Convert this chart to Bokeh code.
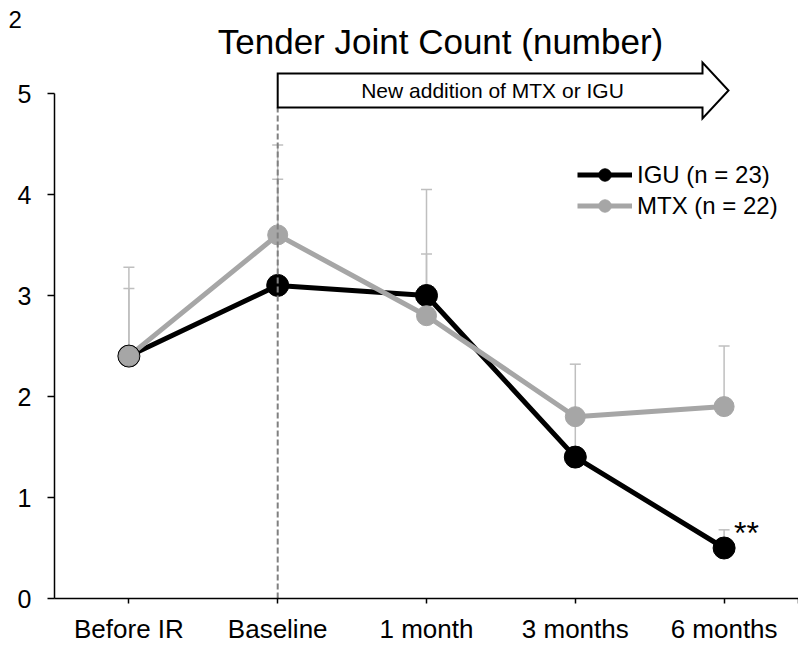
from bokeh.plotting import figure
from bokeh.models import (Range1d, FixedTicker, CustomJSTickFormatter, ColumnDataSource,
                          Whisker, TeeHead, Label, Legend, LegendItem)
from bokeh.embed import file_html
from bokeh.resources import INLINE

# Time points and group means / upper error (SEM) for tender joint count
categories = ["Before IR", "Baseline", "1 month", "3 months", "6 months"]
igu_mean = [2.4, 3.1, 3.0, 1.4, 0.5]
igu_sem = [0.67, 1.05, 1.05, 0.45, 0.18]
mtx_mean = [2.4, 3.6, 2.8, 1.8, 1.9]
mtx_sem = [0.88, 0.89, 0.61, 0.52, 0.60]
y_ticks = [0, 1, 2, 3, 4, 5]
series_labels = ["IGU (n = 23)", "MTX (n = 22)"]

FONT = "Liberation Sans"
BLACK = "#000000"
GREY = "#A6A6A6"
ERR = "#BFBFBF"

W, H = 798, 645
AXIS_X = 54          # pixel column of the value axis
AXIS_Y = 598         # pixel row of the category axis
PX_PER_UNIT = 101    # vertical pixels per count
PX_PER_CAT = (W - AXIS_X) / len(categories)
X_START = -0.5 - AXIS_X / PX_PER_CAT


def px_x(px):
    """Canvas x pixel -> data x (for annotation placement)."""
    return X_START + px / PX_PER_CAT


def px_y(py):
    """Canvas y pixel (from top) -> data y (for annotation placement)."""
    return (AXIS_Y - py) / PX_PER_UNIT


xs = list(range(len(categories)))

# the plotting area fills the whole canvas; both axes are pinned inside it
p = figure(width=W, height=H, output_backend="svg", toolbar_location=None,
           x_range=Range1d(X_START, len(categories) - 0.5),
           y_range=Range1d(px_y(H), px_y(0)),
           min_border=0, outline_line_color=None,
           background_fill_color="white", border_fill_color="white")
p.grid.visible = False

# error bars (upper only), drawn underneath the series
for mean, sem in ((igu_mean, igu_sem), (mtx_mean, mtx_sem)):
    src = ColumnDataSource(dict(x=xs, base=mean, top=[m + e for m, e in zip(mean, sem)]))
    p.add_layout(Whisker(source=src, base="x", lower="base", upper="top",
                         dimension="height", line_color=ERR, line_width=1.5,
                         upper_head=TeeHead(size=11, line_color=ERR, line_width=1.5),
                         lower_head=None))

igu_line = p.line(xs, igu_mean, line_color=BLACK, line_width=5)
mtx_line = p.line(xs, mtx_mean, line_color=GREY, line_width=5)
igu_pts = p.scatter(xs, igu_mean, size=22, fill_color=BLACK, line_color=BLACK, line_width=1)
mtx_pts = p.scatter(xs, mtx_mean, size=20, fill_color=GREY, line_color=GREY, line_width=1)

# treatment-start marker and block arrow
p.segment(x0=[1], y0=[0], x1=[1], y1=[px_y(107)], line_color="#808080",
          line_width=2, line_dash="6 3")
ax = [1.0, px_x(702), px_x(702), px_x(728), px_x(702), px_x(702), 1.0]
ay = [px_y(73), px_y(73), px_y(62), px_y(90), px_y(118), px_y(107), px_y(107)]
p.patch(ax, ay, fill_color="white", line_color=BLACK, line_width=2, line_join="miter")
p.add_layout(Label(x=px_x(492), y=px_y(90), text="New addition of MTX or IGU",
                   text_align="center", text_baseline="middle", text_font=FONT,
                   text_font_size="21px", text_color=BLACK))

# title
p.add_layout(Label(x=px_x(440), y=px_y(41), text="Tender Joint Count (number)",
                   text_align="center", text_baseline="alphabetic", text_font=FONT,
                   text_font_size="35px", text_color=BLACK))

# panel number at the top-left corner
p.add_layout(Label(x=px_x(8), y=px_y(19), text="2", text_align="left",
                   text_baseline="alphabetic", text_font=FONT,
                   text_font_size="24px", text_color=BLACK))

# significance mark at 6 months
p.add_layout(Label(x=xs[4], y=igu_mean[4], x_offset=10, y_offset=15, text="**",
                   text_align="left", text_baseline="alphabetic", text_font=FONT,
                   text_font_size="32px", text_color=BLACK))

legend = Legend(items=[LegendItem(label=series_labels[0], renderers=[igu_line, igu_pts]),
                       LegendItem(label=series_labels[1], renderers=[mtx_line, mtx_pts])],
                location=(577, H - 221),
                padding=0, margin=0, spacing=0, glyph_width=55, glyph_height=31,
                label_height=31, label_standoff=5, label_text_font=FONT,
                label_text_font_size="24px", label_text_color=BLACK,
                border_line_color=None, background_fill_alpha=0)
p.add_layout(legend)

# y axis, pinned at the left edge of the first category slot
p.yaxis.fixed_location = -0.5
p.yaxis.ticker = FixedTicker(ticks=y_ticks)
p.yaxis.bounds = (0, 5)
p.yaxis.major_tick_in = 0
p.yaxis.major_tick_out = 7
p.yaxis.minor_tick_in = 0
p.yaxis.minor_tick_out = 0
p.yaxis.axis_line_width = 1.5
p.yaxis.major_tick_line_width = 1.5
p.yaxis.axis_line_color = BLACK
p.yaxis.major_label_text_font = FONT
p.yaxis.major_label_text_font_size = "25px"
p.yaxis.major_label_text_color = BLACK
p.yaxis.major_label_standoff = 16

# x axis pinned at zero: ticks at each time point plus the right end
p.xaxis.fixed_location = 0
p.xaxis.bounds = (-0.5, len(categories) - 0.5)
p.xaxis.ticker = FixedTicker(ticks=xs + [len(categories) - 0.5])
p.xaxis.formatter = CustomJSTickFormatter(
    args=dict(labels=categories),
    code="const i = Math.round(tick); return Math.abs(tick - i) < 1e-9 ? labels[i] : '';")
p.xaxis.major_tick_in = 0
p.xaxis.major_tick_out = 5
p.xaxis.minor_tick_in = 0
p.xaxis.minor_tick_out = 0
p.xaxis.axis_line_width = 1.5
p.xaxis.major_tick_line_width = 1.5
p.xaxis.axis_line_color = BLACK
p.xaxis.major_label_text_font = FONT
p.xaxis.major_label_text_font_size = "26px"
p.xaxis.major_label_text_color = BLACK
p.xaxis.major_label_standoff = 10

open("out.html", "w").write(file_html(p, INLINE, title="Tender Joint Count"))
